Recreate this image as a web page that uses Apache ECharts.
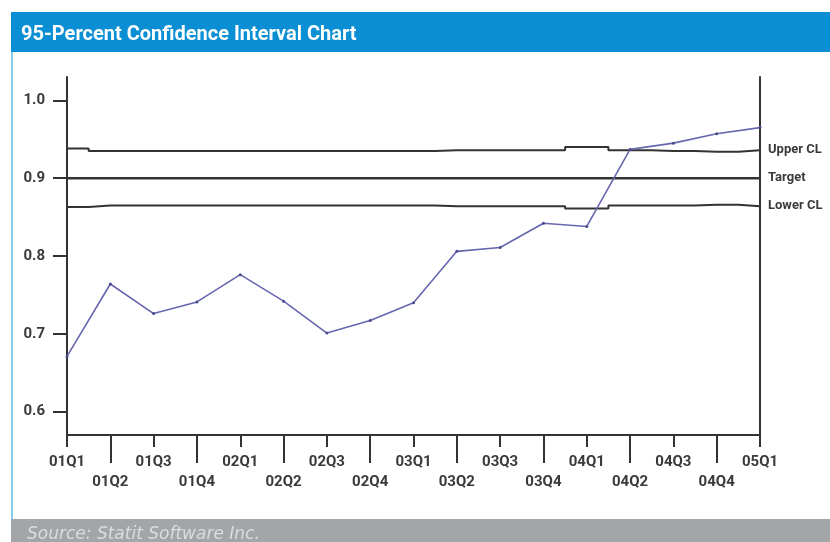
<!DOCTYPE html>
<html>
<head>
<meta charset="utf-8">
<script src="https://cdn.jsdelivr.net/npm/echarts@6/dist/echarts.min.js"></script>
<style>html,body{margin:0;padding:0;background:#fff}#c{width:830px;height:542px}</style>
</head>
<body>
<div id="c"></div>
<script>
const categories = ['01Q1','01Q2','01Q3','01Q4','02Q1','02Q2','02Q3','02Q4','03Q1','03Q2','03Q3','03Q4','04Q1','04Q2','04Q3','04Q4','05Q1'];
const observed = [0.671,0.764,0.726,0.741,0.776,0.742,0.701,0.717,0.740,0.806,0.811,0.842,0.838,0.937,0.945,0.957,0.965];
const upperCL = [0.938,0.935,0.935,0.935,0.935,0.935,0.935,0.935,0.935,0.936,0.936,0.936,0.940,0.936,0.935,0.934,0.936];
const targetLine = [0.9,0.9,0.9,0.9,0.9,0.9,0.9,0.9,0.9,0.9,0.9,0.9,0.9,0.9,0.9,0.9,0.9];
const lowerCL = [0.863,0.865,0.865,0.865,0.865,0.865,0.865,0.865,0.865,0.864,0.864,0.864,0.861,0.865,0.865,0.866,0.864];
const yTicks = [0.6,0.7,0.8,0.9,1.0];

const FONT = "Roboto,'Liberation Sans',sans-serif";
const TXT = '#3a3a3a';
const labelStyle = {fontFamily: FONT, fontWeight: 'bold', fontSize: 15, color: TXT};
const endStyle = {fontFamily: FONT, fontWeight: 'bold', fontSize: 13, color: TXT};

const chart = echarts.init(document.getElementById('c'), null, {renderer: 'canvas'});
chart.setOption({
  animation: false,
  backgroundColor: '#ffffff',
  title: {
    text: '95-Percent Confidence Interval Chart',
    left: 16, top: 20,
    textStyle: {color: '#ffffff', fontFamily: FONT, fontWeight: 'bold', fontSize: 20}
  },
  graphic: [
    {type: 'rect', left: 11, top: 12, shape: {width: 819, height: 40}, style: {fill: '#0a8fd5'}, z: -1},
    {type: 'rect', left: 11, top: 52, shape: {width: 2, height: 490}, style: {fill: '#86cde9'}, z: -1},
    {type: 'rect', left: 11, top: 519, shape: {width: 819, height: 23}, style: {fill: '#a3a6a8'}, z: -1},
    {type: 'text', left: 27, top: 526, style: {text: 'Source: Statit Software Inc.', fill: '#dadddf', font: "italic 17px 'DejaVu Sans',sans-serif"}, z: 1}
  ],
  grid: {left: 67, right: 70, top: 77, bottom: 107},
  xAxis: [
    {
      type: 'category', data: categories, boundaryGap: false,
      axisLine: {show: true, lineStyle: {color: '#333', width: 2}},
      axisTick: {show: true, interval: (i) => i % 2 === 0, length: 12, lineStyle: {color: '#333', width: 2}},
      axisLabel: Object.assign({interval: (i) => i % 2 === 0, margin: 20}, labelStyle),
      splitLine: {show: false}
    },
    {
      type: 'category', data: categories, boundaryGap: false, position: 'bottom', offset: 0,
      axisLine: {show: false},
      axisTick: {show: true, interval: (i) => i % 2 === 1, length: 28, lineStyle: {color: '#333', width: 2}},
      axisLabel: Object.assign({interval: (i) => i % 2 === 1, margin: 40}, labelStyle),
      splitLine: {show: false}
    }
  ],
  yAxis: [
    {
      type: 'value', min: 0.57, max: 1.03, position: 'left',
      axisLine: {show: true, lineStyle: {color: '#333', width: 2}},
      axisTick: {show: true, customValues: yTicks, length: 14, lineStyle: {color: '#333', width: 2}},
      axisLabel: Object.assign({customValues: yTicks, margin: 22, formatter: (v) => v.toFixed(1)}, labelStyle),
      splitLine: {show: false}
    },
    {
      type: 'value', min: 0.57, max: 1.03, position: 'right',
      axisLine: {show: true, lineStyle: {color: '#333', width: 2}},
      axisTick: {show: false}, axisLabel: {show: false}, splitLine: {show: false}
    }
  ],
  series: [
    {
      name: 'Upper CL', type: 'line', data: upperCL, step: 'middle', symbol: 'none',
      lineStyle: {color: '#333', width: 2},
      endLabel: Object.assign({show: true, formatter: '{a}', distance: 8}, endStyle)
    },
    {
      name: 'Target', type: 'line', data: targetLine, symbol: 'none',
      lineStyle: {color: '#333', width: 2.5},
      endLabel: Object.assign({show: true, formatter: '{a}', distance: 8}, endStyle)
    },
    {
      name: 'Lower CL', type: 'line', data: lowerCL, step: 'middle', symbol: 'none',
      lineStyle: {color: '#333', width: 2},
      endLabel: Object.assign({show: true, formatter: '{a}', distance: 8}, endStyle)
    },
    {
      name: 'Observed', type: 'line', data: observed, symbol: 'circle', symbolSize: 3,
      itemStyle: {color: '#4a4a8c'},
      lineStyle: {color: '#6767b0', width: 1.6},
      z: 5
    }
  ]
});
</script>
</body>
</html>
